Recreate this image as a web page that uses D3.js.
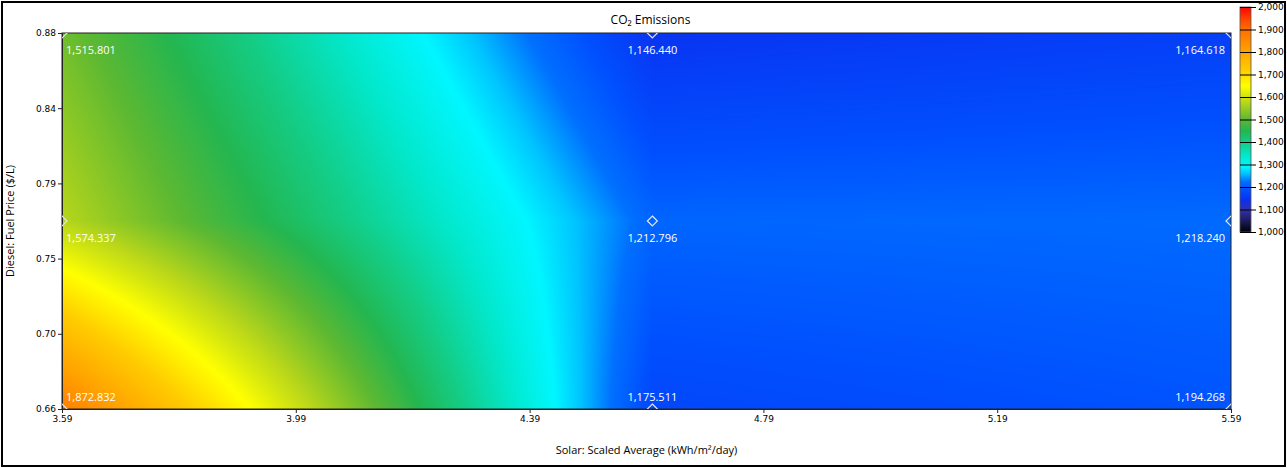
<!DOCTYPE html>
<html><head><meta charset="utf-8">
<script src="https://cdn.jsdelivr.net/npm/d3@7"></script>
<style>
html,body{margin:0;padding:0;background:#fff;}
svg{display:block;}
</style></head>
<body>
<script>
// ---- data ----
const solar = [3.59, 4.6, 5.59];            // kWh/m2/day (x)
const fuel = [0.66, 0.77, 0.88];            // $/L (y)
const emissionsRow066 = [1872.832, 1175.511, 1194.268];
const emissionsRow077 = [1574.337, 1212.796, 1218.240];
const emissionsRow088 = [1515.801, 1146.440, 1164.618];
const emissions = [emissionsRow066, emissionsRow077, emissionsRow088];
const xTickValues = [3.59, 3.99, 4.39, 4.79, 5.19, 5.59];
const yTickValues = [0.66, 0.704, 0.748, 0.792, 0.836, 0.88];
const legendTicks = [1000,1100,1200,1300,1400,1500,1600,1700,1800,1900,2000];
const colorStops = [1000,1050,1100,1140,1190,1225,1260,1290,1340,1400,1450,1500,1575,1650,1720,1800,1900,1950,2000];
const colorValues = ["#000008","#1c1c5a","#3030b0","#0a30f0","#0050ff","#0070ff","#00c4ff","#00f6ff","#02e8cc","#14cc84","#24b650","#5cb832","#b8d61a","#ffff00","#ffcc00","#ffa400","#ff7000","#ff4000","#ff0000"];

const W = 1287, H = 468;
const svg = d3.select("body").append("svg").attr("width", W).attr("height", H);

const x = d3.scaleLinear().domain([3.59, 5.59]).range([62, 1231]);
const y = d3.scaleLinear().domain([0.66, 0.88]).range([409, 33]);
const color = d3.scaleLinear().domain(colorStops).range(colorValues).clamp(true);

// outer frame
svg.append("rect").attr("x", 2).attr("y", 2).attr("width", 1283).attr("height", 464)
  .attr("fill", "#fff").attr("stroke", "#000").attr("stroke-width", 2);

// ---- surface (bilinear interpolation of data) ----
function interp(xv, yv) {
  let i = xv <= solar[1] ? 0 : 1;
  let j = yv <= fuel[1] ? 0 : 1;
  const s = Math.max(0, Math.min(1, (xv - solar[i]) / (solar[i+1] - solar[i])));
  const t = Math.max(0, Math.min(1, (yv - fuel[j]) / (fuel[j+1] - fuel[j])));
  const v00 = emissions[j][i], v10 = emissions[j][i+1], v01 = emissions[j+1][i], v11 = emissions[j+1][i+1];
  return (1-s)*(1-t)*v00 + s*(1-t)*v10 + (1-s)*t*v01 + s*t*v11;
}
const x0 = x.range()[0], x1 = x.range()[1], y0 = y.range()[1], y1 = y.range()[0];
const pw = Math.round(x1 - x0), ph = Math.round(y1 - y0);
const canvas = document.createElement("canvas");
canvas.width = pw; canvas.height = ph;
const ctx = canvas.getContext("2d");
const img = ctx.createImageData(pw, ph);
for (let py = 0; py < ph; py++) {
  const yv = y.invert(y0 + py + 0.5);
  for (let px = 0; px < pw; px++) {
    const xv = x.invert(x0 + px + 0.5);
    const c = d3.rgb(color(interp(xv, yv)));
    const k = (py * pw + px) * 4;
    img.data[k] = c.r; img.data[k+1] = c.g; img.data[k+2] = c.b; img.data[k+3] = 255;
  }
}
ctx.putImageData(img, 0, 0);
svg.append("image").attr("x", x0).attr("y", y0).attr("width", pw).attr("height", ph)
  .attr("preserveAspectRatio", "none")
  .attr("href", canvas.toDataURL());

// clip
svg.append("clipPath").attr("id", "plotclip").append("rect")
  .attr("x", x0).attr("y", y0).attr("width", pw).attr("height", ph);

// plot border
svg.append("rect").attr("x", x0).attr("y", y0).attr("width", pw).attr("height", ph)
  .attr("fill", "none").attr("stroke", "#222").attr("stroke-width", 1);

// ---- axes ----
const tickFont = "'DejaVu Sans', Verdana, sans-serif";
const xAxis = svg.append("g").attr("transform", `translate(0,${y1})`)
  .call(d3.axisBottom(x).tickValues(xTickValues).tickFormat(d3.format(".2f")).tickSize(4).tickPadding(3));
const yAxis = svg.append("g").attr("transform", `translate(${x0},0)`)
  .call(d3.axisLeft(y).tickValues(yTickValues).tickFormat(d3.format(".2f")).tickSize(4).tickPadding(2));
[xAxis, yAxis].forEach(g => {
  g.select(".domain").attr("stroke", "#222");
  g.selectAll(".tick line").attr("stroke", "#222");
  g.selectAll("text").attr("font-family", tickFont).attr("font-size", 9).attr("fill", "#000");
});

// titles
const uiFont = "'Open Sans', 'Noto Sans', sans-serif";
svg.append("text").attr("x", (x0 + x1) / 2 + 4).attr("y", 24).attr("text-anchor", "middle")
  .attr("font-family", uiFont).attr("font-size", 12).attr("fill", "#000").text("CO₂ Emissions");
svg.append("text").attr("x", (x0 + x1) / 2).attr("y", 454).attr("text-anchor", "middle")
  .attr("font-family", uiFont).attr("font-size", 11).attr("fill", "#000")
  .text("Solar: Scaled Average (kWh/m²/day)");
svg.append("text").attr("transform", `translate(14,${(y0 + y1) / 2}) rotate(-90)`).attr("text-anchor", "middle")
  .attr("font-family", uiFont).attr("font-size", 11).attr("fill", "#000")
  .text("Diesel: Fuel Price ($/L)");

// ---- data points ----
const points = [];
fuel.forEach((f, j) => solar.forEach((s, i) => points.push({s, f, i, j, v: emissions[j][i]})));
const fmt = d3.format(",.3f");
svg.append("g").attr("clip-path", "url(#plotclip)").selectAll("path").data(points).join("path")
  .attr("d", d => { const cx = x(d.s), cy = y(d.f), r = 5; return `M${cx},${cy-r}L${cx+r},${cy}L${cx},${cy+r}L${cx-r},${cy}Z`; })
  .attr("fill", "none").attr("stroke", "#e6e6e6").attr("stroke-width", 1.2);
svg.append("g").selectAll("text").data(points).join("text")
  .attr("x", d => d.i === 0 ? x(d.s) + 4 : d.i === 2 ? x(d.s) - 6 : x(d.s))
  .attr("y", d => d.j === 0 ? y(d.f) - 8 : y(d.f) + 21)
  .attr("text-anchor", d => d.i === 0 ? "start" : d.i === 2 ? "end" : "middle")
  .attr("font-family", uiFont).attr("font-size", 11).attr("fill", "#fff")
  .text(d => fmt(d.v));

// ---- colour bar ----
const cb = d3.scaleLinear().domain([1000, 2000]).range([232, 7]);
const grad = svg.append("defs").append("linearGradient").attr("id", "cbgrad")
  .attr("x1", 0).attr("y1", 1).attr("x2", 0).attr("y2", 0);
grad.selectAll("stop").data(colorStops).join("stop")
  .attr("offset", d => (d - 1000) / 1000).attr("stop-color", d => color(d));
svg.append("rect").attr("x", 1240).attr("y", cb(2000)).attr("width", 11).attr("height", cb(1000) - cb(2000))
  .attr("fill", "url(#cbgrad)").attr("stroke", "#555").attr("stroke-width", 0.8);
const cbAxis = svg.append("g").attr("transform", "translate(1251,0)")
  .call(d3.axisRight(cb).tickValues(legendTicks).tickFormat(d3.format(",")).tickSize(5).tickPadding(2));
cbAxis.select(".domain").remove();
cbAxis.selectAll(".tick line").attr("x1", -11).attr("x2", 5).attr("stroke", "#000");
cbAxis.selectAll("text").attr("font-family", tickFont).attr("font-size", 9).attr("fill", "#000");
</script>
</body></html>
